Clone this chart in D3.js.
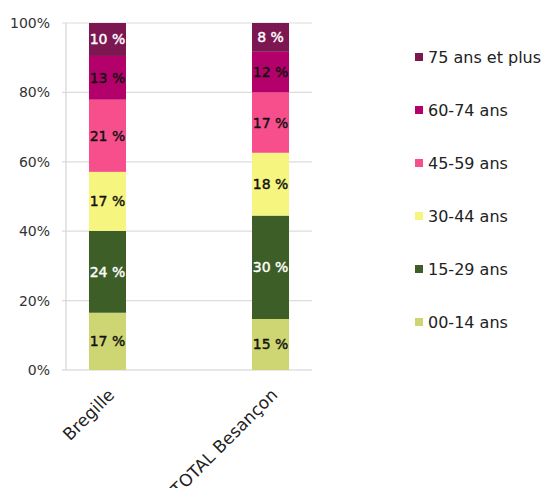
<!DOCTYPE html>
<html>
<head>
<meta charset="utf-8">
<script src="https://cdn.jsdelivr.net/npm/d3@7"></script>
<style>
body { margin: 0; background: #fff; }
svg { font-family: "DejaVu Sans", sans-serif; }
</style>
</head>
<body>
<script>
// data
var categories = ["Bregille", "TOTAL Besançon"];
var ageGroups = ["00-14 ans", "15-29 ans", "30-44 ans", "45-59 ans", "60-74 ans", "75 ans et plus"];
var bregille = [16.5, 23.6, 17.0, 20.8, 12.6, 9.5];
var besancon = [14.7, 29.8, 18.1, 17.4, 11.7, 8.3];
var yTicks = [0, 20, 40, 60, 80, 100];

var colors = ["#cdd672", "#3d5e27", "#f6f57f", "#f74f8c", "#b4006a", "#7d1752"];
var labelColors = ["#111", "#fff", "#111", "#111", "#111", "#fff"];

// build stack table
var table = categories.map(function(c, i) {
  var row = { cat: c };
  var vals = i == 0 ? bregille : besancon;
  ageGroups.forEach(function(g, j) { row[g] = vals[j]; });
  return row;
});
var series = d3.stack().keys(ageGroups)(table);

var svg = d3.select("body").append("svg")
  .attr("width", 545).attr("height", 488);

var x = d3.scaleBand().domain(categories).range([66, 312]).paddingInner(0.773).paddingOuter(0.141);
var y = d3.scaleLinear().domain([0, 100]).range([370, 23]);

// gridlines
svg.append("g").selectAll("line").data(yTicks).enter().append("line")
  .attr("x1", 62).attr("x2", 312)
  .attr("y1", function(d) { return y(d); })
  .attr("y2", function(d) { return y(d); })
  .attr("stroke", function(d) { return d == 0 ? "#cfcfcf" : "#dcdcdc"; })
  .attr("stroke-width", 1.2);

svg.append("line").attr("x1", 66).attr("x2", 66).attr("y1", y(100)).attr("y2", y(0))
  .attr("stroke", "#d4d4d4").attr("stroke-width", 1.2);

// y labels
svg.append("g").selectAll("text").data(yTicks).enter().append("text")
  .attr("x", 50).attr("y", function(d) { return y(d) + 5; })
  .attr("text-anchor", "end")
  .attr("font-size", 14).attr("fill", "#333")
  .text(function(d) { return d + "%"; });

// bars
var groups = svg.selectAll("g.serie").data(series).enter().append("g")
  .attr("class", "serie");

groups.each(function(s, k) {
  var g = d3.select(this);
  g.selectAll("rect").data(s).enter().append("rect")
    .attr("x", function(d) { return x(d.data.cat); })
    .attr("width", x.bandwidth())
    .attr("y", function(d) { return y(d[1]); })
    .attr("height", function(d) { return y(d[0]) - y(d[1]); })
    .attr("fill", colors[k]);

  g.selectAll("text").data(s).enter().append("text")
    .attr("x", function(d) { return x(d.data.cat) + x.bandwidth() / 2; })
    .attr("y", function(d) { return (y(d[0]) + y(d[1])) / 2 + 5; })
    .attr("text-anchor", "middle")
    .attr("font-size", 14)
    .attr("fill", labelColors[k])
    .attr("stroke", labelColors[k]).attr("stroke-width", 0.4)
    .text(function(d) { return Math.round(d[1] - d[0]) + " %"; });
});

// category labels
svg.append("g").selectAll("text").data(categories).enter().append("text")
  .attr("text-anchor", "end")
  .attr("font-size", 17).attr("fill", "#222")
  .attr("transform", function(d) {
    return "translate(" + (x(d) + x.bandwidth() / 2 + 8) + ",396) rotate(-45)";
  })
  .text(function(d) { return d; });

// legend
var legend = svg.append("g").selectAll("g").data(ageGroups.slice().reverse()).enter().append("g")
  .attr("transform", function(d, i) { return "translate(415," + (57 + i * 53) + ")"; });
legend.append("rect").attr("x", 0).attr("y", -4).attr("width", 8).attr("height", 8)
  .attr("fill", function(d) { return colors[ageGroups.indexOf(d)]; });
legend.append("text").attr("x", 13).attr("y", 6)
  .attr("font-size", 16).attr("fill", "#222")
  .text(function(d) { return d; });
</script>
</body>
</html>
